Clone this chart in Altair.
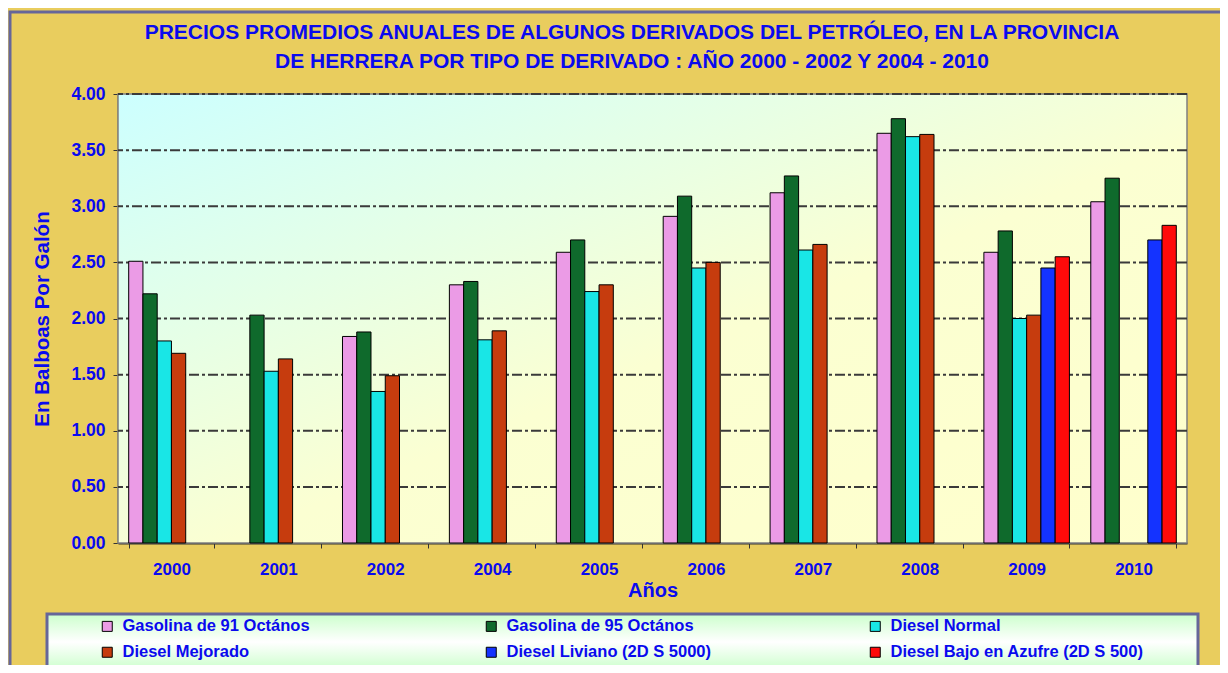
import altair as alt
import pandas as pd

years = ["2000", "2001", "2002", "2004", "2005", "2006", "2007", "2008", "2009", "2010"]
series = [
    "Gasolina de 91 Octános",
    "Gasolina de 95 Octános",
    "Diesel Normal",
    "Diesel Mejorado",
    "Diesel Liviano (2D S 5000)",
    "Diesel Bajo en Azufre (2D S 500)",
]
gas91 = [2.51, None, 1.84, 2.30, 2.59, 2.91, 3.12, 3.65, 2.59, 3.04]
gas95 = [2.22, 2.03, 1.88, 2.33, 2.70, 3.09, 3.27, 3.78, 2.78, 3.25]
diesel_normal = [1.80, 1.53, 1.35, 1.81, 2.24, 2.45, 2.61, 3.62, 2.00, None]
diesel_mejorado = [1.69, 1.64, 1.49, 1.89, 2.30, 2.50, 2.66, 3.64, 2.03, None]
diesel_liviano = [None, None, None, None, None, None, None, None, 2.45, 2.70]
diesel_bajo = [None, None, None, None, None, None, None, None, 2.55, 2.83]
colors = ["#eb9be6", "#0f6a2c", "#19e6e6", "#c63c0e", "#1433ff", "#ff0a0a"]
y_ticks = [0.5, 1.0, 1.5, 2.0, 2.5, 3.0, 3.5, 4.0]

title_line1 = "PRECIOS PROMEDIOS ANUALES DE ALGUNOS DERIVADOS DEL PETRÓLEO, EN LA PROVINCIA"
title_line2 = "DE HERRERA POR TIPO DE DERIVADO : AÑO 2000 - 2002 Y 2004 - 2010"

rows = []
for name, vals in zip(series, [gas91, gas95, diesel_normal, diesel_mejorado, diesel_liviano, diesel_bajo]):
    for y, v in zip(years, vals):
        if v is not None:
            rows.append({"anio": y, "serie": name, "valor": v})
df = pd.DataFrame(rows)

W, H = 1069, 449
BLUE = "#0a0aee"
FONT = "Liberation Sans"

y_axis = alt.Axis(
    values=[0, 0.5, 1.0, 1.5, 2.0, 2.5, 3.0, 3.5, 4.0], format=".2f",
    labelFontSize=17.5, labelFont=FONT, labelFontWeight="bold", labelColor=BLUE,
    labelPadding=8, tickSize=5, tickColor="#333333", domainColor="#333333",
    domainWidth=1.5, grid=False,
    title="En Balboas Por Galón", titleFont=FONT, titleFontSize=20.5,
    titleFontWeight="bold", titleColor=BLUE, titlePadding=18,
)
x_axis = alt.Axis(
    labelAngle=0, labelFontSize=17, labelFont=FONT, labelFontWeight="bold",
    labelColor=BLUE, labelPadding=13, tickBand="extent", tickSize=5,
    tickColor="#333333", domainColor="#333333", domainWidth=2,
    title="Años", titleFont=FONT, titleFontSize=20, titleFontWeight="bold",
    titleColor=BLUE, titlePadding=3,
)

one = alt.Data(values=[{"k": 1}])

plot_bg = alt.Chart(one).mark_rect(
    fill=alt.Gradient(
        gradient="linear", x1=0, y1=0, x2=1, y2=1,
        stops=[alt.GradientStop(offset=0, color="#ccffff"),
               alt.GradientStop(offset=0.55, color="#fbffd2"),
               alt.GradientStop(offset=1, color="#ffffcc")],
    ),
    stroke="#808080", strokeWidth=1.5,
).encode(x=alt.value(0), x2=alt.value(W), y=alt.value(0), y2=alt.value(H))

outer_border = alt.Chart(one).mark_rect(
    fill=None, stroke="#666699", strokeWidth=3
).encode(x=alt.value(-108), x2=alt.value(1140), y=alt.value(-82), y2=alt.value(620))

legend_box = alt.Chart(one).mark_rect(
    fill=alt.Gradient(
        gradient="linear", x1=0, y1=0, x2=0, y2=1,
        stops=[alt.GradientStop(offset=0, color="#ccffcc"),
               alt.GradientStop(offset=0.5, color="#ffffff"),
               alt.GradientStop(offset=1, color="#ccffcc")],
    ),
    stroke="#666699", strokeWidth=3,
).encode(x=alt.value(-71), x2=alt.value(1080), y=alt.value(520), y2=alt.value(576))

title_style = dict(font=FONT, fontSize=21, fontWeight="bold", color=BLUE,
                   align="center", baseline="alphabetic")
title1 = alt.Chart(one).mark_text(text=title_line1, **title_style).encode(
    x=alt.value(514), y=alt.value(-55))
title2 = alt.Chart(one).mark_text(text=title_line2, **title_style).encode(
    x=alt.value(514), y=alt.value(-26))

grid = alt.Chart(pd.DataFrame({"v": y_ticks})).mark_rule(
    color="#3a3a3a", strokeWidth=2, strokeDash=[10, 3, 3, 3]
).encode(y=alt.Y("v:Q", scale=alt.Scale(domain=[0, 4]), axis=y_axis))

bars = alt.Chart(df).mark_bar(stroke="black", strokeWidth=1).encode(
    x=alt.X("anio:N", sort=years,
            scale=alt.Scale(domain=years, paddingInner=0.2, paddingOuter=0.1),
            axis=x_axis),
    xOffset=alt.XOffset("serie:N", sort=series,
                        scale=alt.Scale(domain=series, paddingInner=0, paddingOuter=0)),
    y=alt.Y("valor:Q", scale=alt.Scale(domain=[0, 4]), axis=y_axis),
    color=alt.Color(
        "serie:N", sort=series,
        scale=alt.Scale(domain=series, range=colors),
        legend=alt.Legend(
            title=None, orient="none", legendX=-19, legendY=524,
            columns=3, direction="horizontal", gridAlign="all",
            columnPadding=107, rowPadding=9,
            symbolType="square", symbolSize=100, symbolStrokeColor="black",
            symbolStrokeWidth=1, labelFont=FONT, labelFontSize=16.5,
            labelFontWeight="bold", labelColor=BLUE, labelLimit=500,
            labelOffset=7, padding=0,
        ),
    ),
)

chart = alt.layer(outer_border, legend_box, plot_bg, grid, bars, title1, title2).properties(
    width=W, height=H,
    autosize=alt.AutoSizeParams(type="none"),
    padding={"left": 110, "top": 86, "right": 33, "bottom": 122},
).configure(background="#e9cd5e").configure_view(stroke=None)

chart.save("out.html", embed_options={"renderer": "svg", "actions": False})
